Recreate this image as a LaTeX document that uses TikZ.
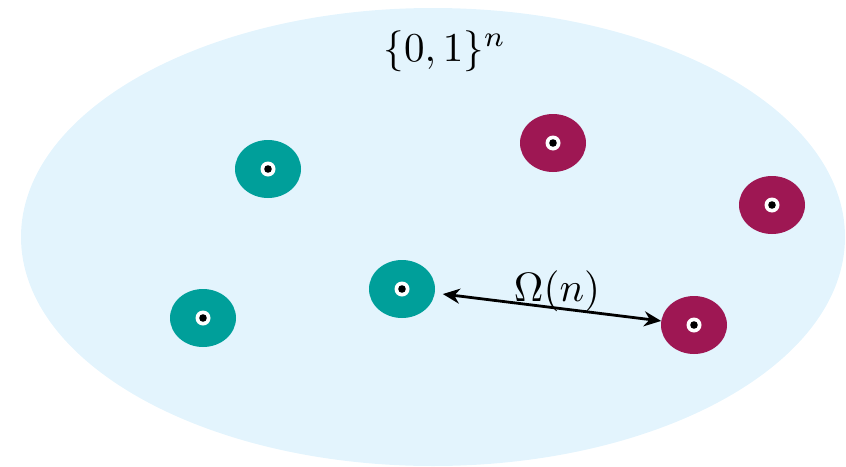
\documentclass[tikz,border=0pt]{standalone}
\usepackage{amsmath,amssymb}
\usepackage{graphicx}
\usepackage{tikz}
\usetikzlibrary{arrows.meta,positioning,shapes.geometric}
\usepackage{xcolor}
\definecolor{cubeblue}{HTML}{E3F4FD}
\definecolor{tealpt}{HTML}{009F9A}
\definecolor{plumpt}{HTML}{9E1753}
\newcommand{\bigmath}[1]{\scalebox{4.1}{$#1$}}

\begin{document}
\begin{tikzpicture}[x=1pt, y=-1pt,
  arr/.style={{Stealth[length=17pt,width=15pt]}-{Stealth[length=17pt,width=15pt]}, line width=2.8pt},
  pt/.style={ellipse, minimum width=66pt, minimum height=58pt, inner sep=0pt},
  tpt/.style={pt, fill=tealpt},
  ppt/.style={pt, fill=plumpt},
  lbl/.style={inner sep=0pt}
]
\useasboundingbox (0,0) rectangle (846,466);

% Hypercube
\fill[cubeblue] (433,237) ellipse [x radius=412pt, y radius=229pt];
\node[lbl, anchor=base] (cube) at (445,61) {\bigmath{\{0,1\}^n}};

% Points
\node[tpt] (t1) at (268,169) {};
\node[tpt] (t2) at (402,289) {};
\node[tpt] (t3) at (203,318) {};
\node[ppt] (p1) at (553,143) {};
\node[ppt] (p2) at (772,205) {};
\node[ppt] (p3) at (694,325) {};
\foreach \q in {t1,t2,t3,p1,p2,p3} {
  \fill[white] (\q) circle (7.5pt);
  \fill[black] (\q) circle (3.8pt);
}

% Distance
\draw[arr, shorten <=8pt] (t2) -- (p3) node[lbl, midway, anchor=south, xshift=9pt, yshift=-6pt] (dist) {\bigmath{\Omega(n)}};

\end{tikzpicture}
\end{document}
